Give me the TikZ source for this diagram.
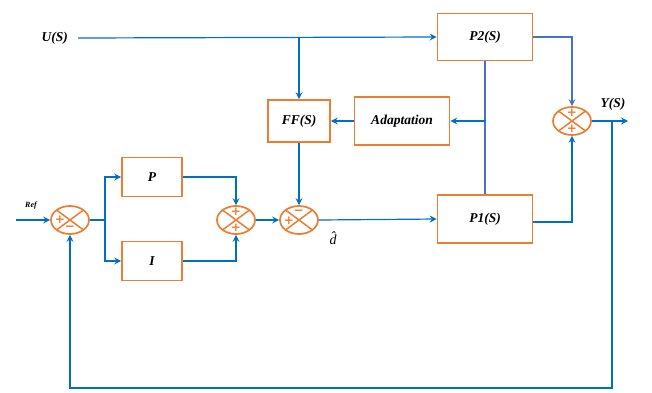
\documentclass[tikz,border=0pt]{standalone}
\usepackage{amsmath,amssymb}
\usepackage{fontspec}
\setmainfont{Liberation Serif}
\newfontfamily\signfont{DejaVu Sans}
\usetikzlibrary{shapes.geometric,arrows.meta,calc}
\definecolor{orng}{RGB}{237,125,49}
\definecolor{blu}{RGB}{0,112,192}
\definecolor{sblu}{RGB}{68,114,196}
\tikzset{
  blk/.style={draw=orng,line width=1.7pt,inner sep=0pt,font=\bfseries\itshape\fontsize{13.5}{15}\selectfont,fill=white},
  sumj/.style={ellipse,draw=orng,line width=1.7pt,minimum width=38pt,minimum height=28pt,inner sep=0pt},
  sgn/.style={text=orng,font=\signfont\bfseries\fontsize{12}{13}\selectfont,inner sep=0pt},
  arr/.style={draw=blu,line width=1.2pt,-{Stealth[length=7pt,width=7pt,inset=2.5pt]}},
  ln/.style={draw=blu,line width=1.2pt},
  sln/.style={draw=sblu,line width=1.2pt},
  lbl/.style={font=\bfseries\itshape\fontsize{13.5}{15}\selectfont,inner sep=0pt}
}
\newcommand{\sumx}[1]{%
  \draw[orng,line width=1.5pt] ($(#1)+(-13.4,-9.9)$) -- ($(#1)+(13.4,9.9)$);
  \draw[orng,line width=1.5pt] ($(#1)+(-13.4,9.9)$) -- ($(#1)+(13.4,-9.9)$);}
\begin{document}
\begin{tikzpicture}[x=1pt,y=-1pt]
\useasboundingbox (0,0) rectangle (652,392);
% blocks
\node[blk,minimum width=95pt,minimum height=47pt] (P2) at (485,37) {P2(S)};
\node[blk,minimum width=62pt,minimum height=42pt] (FF) at (299,121) {FF(S)};
\node[blk,minimum width=95pt,minimum height=48pt] (A) at (402,121) {Adaptation};
\node[blk,minimum width=95pt,minimum height=48pt] (P1) at (485,219) {P1(S)};
\node[blk,minimum width=60pt,minimum height=39pt] (P) at (152,177) {P};
\node[blk,minimum width=60pt,minimum height=39pt] (I) at (152,261) {I};
% summing junctions
\node[sumj] (S1) at (70,220) {};
\node[sumj] (S2) at (236,220) {};
\node[sumj] (S4) at (299,220) {};
\node[sumj] (S3) at (572,121) {};
\sumx{S1}\sumx{S2}\sumx{S4}\sumx{S3}
\node[sgn] (s1a) at ($(S1)+(-10,0)$) {+};
\node[sgn] (s1b) at ($(S1)+(0,8)$) {−};
\node[sgn] (s2a) at ($(S2)+(0,-8)$) {+};
\node[sgn] (s2b) at ($(S2)+(0,8)$) {+};
\node[sgn] (s4a) at ($(S4)+(0,-8)$) {−};
\node[sgn] (s4b) at ($(S4)+(-10,1)$) {+};
\node[sgn] (s3a) at ($(S3)+(0,-8)$) {+};
\node[sgn] (s3b) at ($(S3)+(0,8)$) {+};
% labels
\node[lbl,inner xsep=10pt,anchor=east] (U) at (78,38) {U(S)};
\node[lbl] (Y) at (613,104) {Y(S)};
\node[lbl,font=\bfseries\itshape\fontsize{8}{9}\selectfont] (R) at (31,206) {Ref};
\node[inner sep=0pt,font=\itshape\fontsize{14}{15}\selectfont] (dh) at (333,238) {d^^^^0302};
% coordinates
\coordinate (refin) at (16,220);
\coordinate (br) at (105,220);
\coordinate (yout) at (628,121);
\coordinate (fb) at (612,121);
\coordinate (fbc) at (612,388);
% connectors
\draw[arr] (U.east) -- (P2.west);
\draw[arr] (FF.north |- P2.west) -- (FF.north);
\draw[arr] (A.west) -- (FF.east);
\draw[sln] (P2.south) -- (P1.north);
\draw[arr] (P2.south |- A.east) -- (A.east);
\draw[sln,-{Stealth[length=7pt,width=7pt,inset=2.5pt]}] (P2.east) -| (S3.north);
\draw[arr] ([yshift=-3pt]P1.east) -| (S3.south);
\draw[arr] (S3.east) -- (yout);
\draw[arr] (fb) -- (fbc) -| (S1.south);
\draw[arr] (refin) -- (S1.west);
\draw[ln] (S1.east) -- (br);
\draw[arr] (br) |- (P.west);
\draw[arr] (br) |- (I.west);
\draw[arr] (P.east) -| (S2.north);
\draw[arr] (I.east) -| (S2.south);
\draw[arr] (S2.east) -- (S4.west);
\draw[arr] (FF.south) -- (S4.north);
\draw[arr] (S4.east) -- (P1.west);
\end{tikzpicture}
\end{document}
